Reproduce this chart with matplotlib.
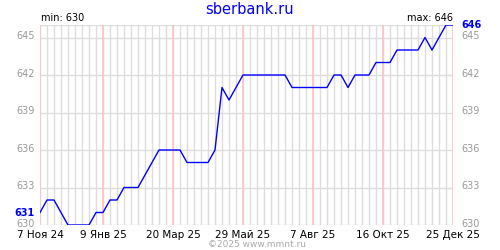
import matplotlib
matplotlib.use("Agg")

import matplotlib.pyplot as plt
import pandas as pd

# weekly quotes, 7 Nov 2024 .. 25 Dec 2025
START_DATE = "2024-11-07"
PRICES = [631, 632, 632, 631, 630, 630, 630, 630, 631, 631,
          632, 632, 633, 633, 633, 634, 635, 636, 636, 636,
          636, 635, 635, 635, 635, 636, 641, 640, 641, 642,
          642, 642, 642, 642, 642, 642, 641, 641, 641, 641,
          641, 641, 642, 642, 641, 642, 642, 642, 643, 643,
          643, 644, 644, 644, 644, 645, 644, 645, 646, 646]
TICK_DATES = ["2024-11-07", "2025-01-09", "2025-03-20", "2025-05-29",
              "2025-08-07", "2025-10-16", "2025-12-25"]
TICK_LABELS = ["7 Ноя 24", "9 Янв 25", "20 Мар 25", "29 Май 25",
               "7 Авг 25", "16 Окт 25", "25 Дек 25"]
Y_TICKS = [630, 633, 636, 639, 642, 645]

BLUE = "#0000ff"
GRAY_TXT = "#999999"
GRID = "#dddddd"
RED_GRID = "#ffc4c4"

dates = pd.date_range(START_DATE, periods=len(PRICES), freq="7D")
ticks = pd.to_datetime(TICK_DATES)

fig = plt.figure(figsize=(5, 2.5), dpi=100)
ax = fig.add_axes([0.08, 0.10, 0.826, 0.80])

ax.set_xlim(dates[0], ticks[-1])
ax.set_ylim(630, 646)

# weekly grid, red line every 10 weeks
for d in dates:
    ax.axvline(d, color=GRID, linewidth=1, zorder=1)
for d in ticks:
    ax.axvline(d, color=RED_GRID, linewidth=1.2, zorder=1.5)
for y in Y_TICKS:
    ax.axhline(y, color=GRID, linewidth=1, zorder=1)
ax.axhline(646, color=GRID, linewidth=1, zorder=1)

ax.plot(dates, PRICES, color=BLUE, linewidth=1, zorder=3)

for s in ax.spines.values():
    s.set_visible(False)
ax.set_yticks([])
ax.set_xticks(ticks)
ax.set_xticklabels(TICK_LABELS, fontsize=7.5, color="black")
ax.tick_params(axis="x", length=0, pad=3.5)

# y labels on both sides
fs = 7
for y in Y_TICKS:
    if y != PRICES[0]:
        ax.text(-0.013, y + 0.1, str(y), transform=ax.get_yaxis_transform(),
                ha="right", va="center", fontsize=fs, color=GRAY_TXT)
    ax.text(1.02, y + 0.1, str(y), transform=ax.get_yaxis_transform(),
            ha="left", va="center", fontsize=fs, color=GRAY_TXT)
ax.text(-0.013, PRICES[0], str(PRICES[0]), transform=ax.get_yaxis_transform(),
        ha="right", va="center", fontsize=fs, color=BLUE, fontweight="bold")
ax.text(1.02, PRICES[-1], str(PRICES[-1]), transform=ax.get_yaxis_transform(),
        ha="left", va="center", fontsize=fs, color=BLUE, fontweight="bold")

ax.text(0.003, 1.01, f"min: {min(PRICES)}", transform=ax.transAxes,
        ha="left", va="bottom", fontsize=7, color="black")
ax.text(1.0, 1.01, f"max: {max(PRICES)}", transform=ax.transAxes,
        ha="right", va="bottom", fontsize=7, color="black")

fig.text(0.5, 0.96, "sberbank.ru", ha="center", va="center",
         fontsize=10.5, color=BLUE)
fig.text(0.513, 0.022, "©2025 www.mmnt.ru", ha="center", va="center",
         fontsize=6.5, color="#aaaaaa")

fig.savefig("out.png", dpi=100, facecolor="white")
plt.close(fig)
